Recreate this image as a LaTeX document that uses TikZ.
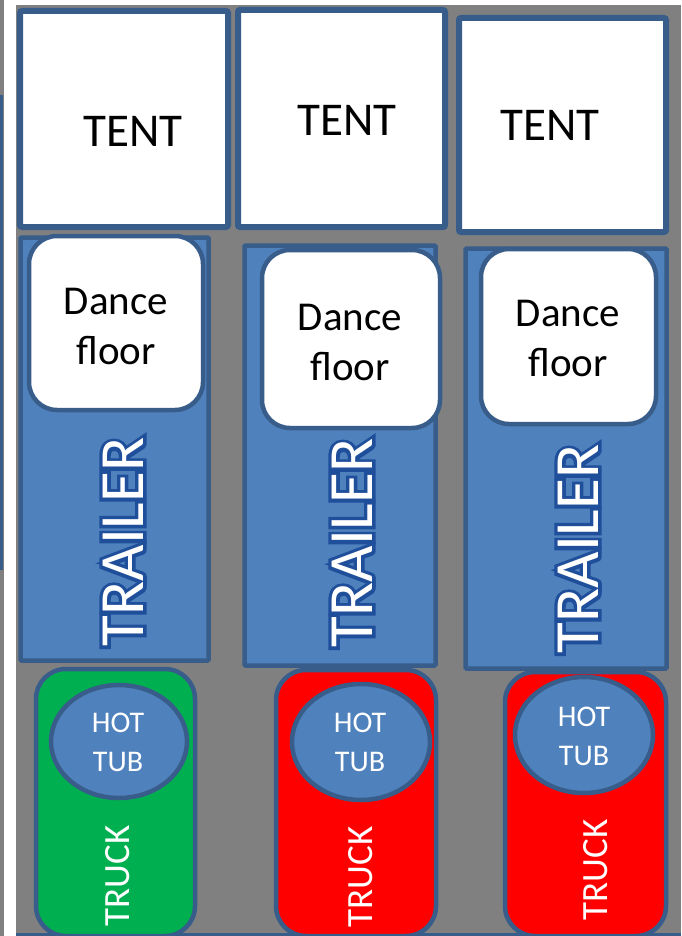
\documentclass[tikz,border=0pt]{standalone}
\usepackage{fontspec}
\setmainfont{Carlito}
\newfontfamily\outlinefont[FakeBold=11]{Carlito}
\usetikzlibrary{shapes.geometric}
\definecolor{bgray}{HTML}{808080}
\definecolor{oblue}{HTML}{4F81BD}
\definecolor{dblue}{HTML}{385D8A}
\definecolor{tblue}{HTML}{1F4E9A}
\definecolor{tgreen}{HTML}{00B050}
\definecolor{tred}{HTML}{FF0000}
\tikzset{
  tentbox/.style={draw=dblue, line width=6pt, fill=white, rounded corners=2pt},
  trailerbox/.style={draw=dblue, line width=4.5pt, fill=oblue, rounded corners=1pt},
  floorbox/.style={draw=dblue, line width=4.5pt, fill=white, rounded corners=28pt},
  truckbox/.style={draw=dblue, line width=4.5pt, rounded corners=30pt},
  tubshape/.style={draw=dblue, line width=4.5pt, fill=oblue},
  tenttext/.style={font=\fontsize{47}{56}\selectfont, text=black, inner sep=0pt},
  floortext/.style={font=\fontsize{41}{50}\selectfont, text=black, align=center, inner sep=0pt},
  tubtext/.style={font=\fontsize{30}{39}\selectfont, text=white, align=center, inner sep=0pt},
  trucktext/.style={font=\fontsize{37}{44}\selectfont, text=white, rotate=90, inner sep=0pt},
  trailshadow/.style={font=\outlinefont\fontsize{63}{70}\selectfont, text=tblue, rotate=90, inner sep=0pt},
  trailtext/.style={font=\fontsize{63}{70}\selectfont, text=white, rotate=90, inner sep=0pt}
}
\begin{document}
\begin{tikzpicture}[x=1pt,y=-1pt]
\useasboundingbox (0,0) rectangle (681,936);
\fill[white] (0,0) rectangle (681,936);
% left strip
\fill[bgray] (0,0) rectangle (3.5,936);
\fill[dblue] (0,95) rectangle (3,570);
% background
\fill[bgray] (16,5) rectangle (681,936);
\fill[dblue] (16,933) rectangle (681,936);
% tents
\draw[tentbox] (20,11) rectangle (228,227);
\draw[tentbox] (238,10) rectangle (445,227);
\draw[tentbox] (459,18) rectangle (666,232);
\node[tenttext] (tent1) at (133,131) {TENT};
\node[tenttext] (tent2) at (347,120) {TENT};
\node[tenttext] (tent3) at (550,125) {TENT};
% trailers
\draw[trailerbox] (20.5,237.5) rectangle (208.5,660.5);
\draw[trailerbox] (244.5,245.5) rectangle (435.5,665.5);
\draw[trailerbox] (465.5,248.5) rectangle (666.5,668.5);
% dance floors
\draw[floorbox] (29,236) rectangle (203,410);
\draw[floorbox] (262,250) rectangle (440,428);
\draw[floorbox] (481,249) rectangle (656,424);
\node[floortext] (floor1) at (116,326) {Dance\\floor};
\node[floortext] (floor2) at (350,342) {Dance\\floor};
\node[floortext] (floor3) at (568,338) {Dance\\floor};
% trailer labels
\node[trailshadow] (trs1) at (123,542) {TRAILER};
\node[trailtext] (trl1) at (123,542) {TRAILER};
\node[trailshadow] (trs2) at (352,543) {TRAILER};
\node[trailtext] (trl2) at (352,543) {TRAILER};
\node[trailshadow] (trs3) at (578,549) {TRAILER};
\node[trailtext] (trl3) at (578,549) {TRAILER};
% trucks
\draw[truckbox, fill=tgreen] (36,669) rectangle (195,936);
\draw[truckbox, fill=tred] (276,670) rectangle (436,936);
\draw[truckbox, fill=tred] (505,672) rectangle (666,936);
% hot tubs
\draw[tubshape] (119,741.5) ellipse [x radius=68, y radius=56.5];
\draw[tubshape] (361,742) ellipse [x radius=69, y radius=58];
\draw[tubshape] (584,735) ellipse [x radius=69, y radius=58];
\node[tubtext] (tub1) at (118,742) {HOT\\TUB};
\node[tubtext] (tub2) at (360,742) {HOT\\TUB};
\node[tubtext] (tub3) at (584,736) {HOT\\TUB};
% truck labels
\node[trucktext] (trk1) at (118,876) {TRUCK};
\node[trucktext] (trk2) at (361,877) {TRUCK};
\node[trucktext] (trk3) at (596,870) {TRUCK};
\end{tikzpicture}
\end{document}
